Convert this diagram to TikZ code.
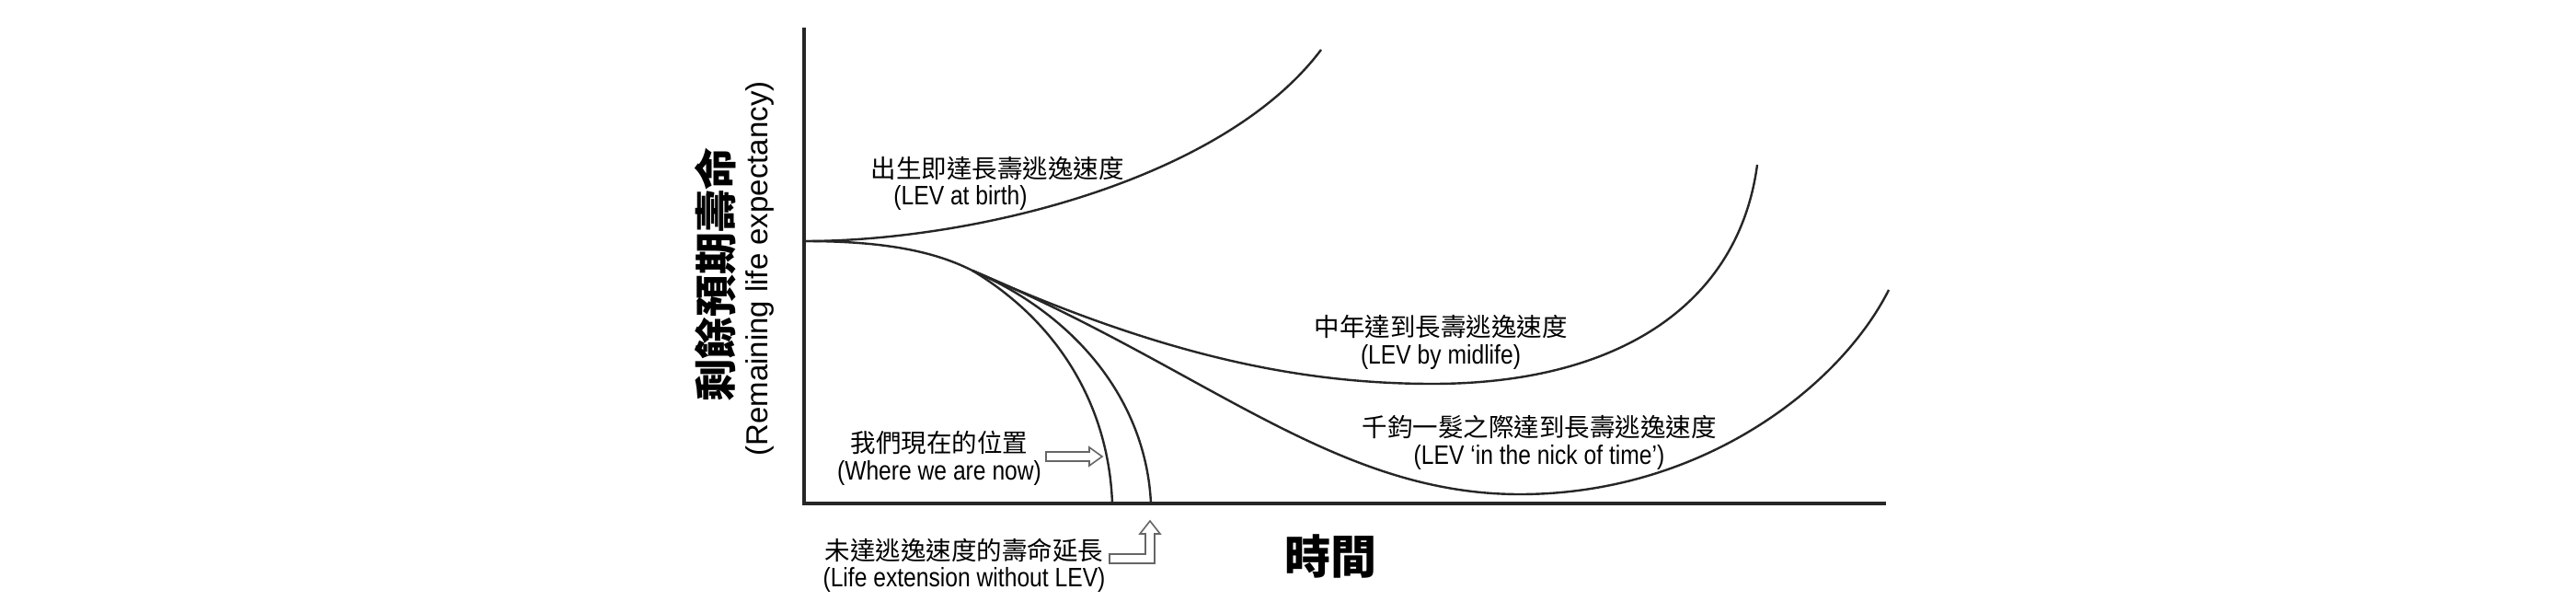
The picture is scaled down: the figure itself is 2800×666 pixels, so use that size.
\documentclass[tikz,border=0pt]{standalone}
\usepackage{fontspec}
\setmainfont{Liberation Sans}
\newfontfamily\cjk{Noto Sans CJK TC}
\newcommand{\cond}[1]{\scalebox{0.85}[1]{#1}}
\begin{document}
\begin{tikzpicture}[x=1pt,y=-1pt,
  curve/.style={line width=2.4pt,draw=black!85},
  axis/.style={line width=3.5pt,draw=black!85},
  zh/.style={inner sep=0,font=\cjk\fontsize{27.5}{28}\selectfont},
  en/.style={inner sep=0,font=\fontsize{29}{29}\selectfont},
  hollow/.style={draw=black!60,line width=1.6pt,fill=white}]
\useasboundingbox (0,0) rectangle (2800,666);
\fill[white] (0,0) rectangle (2800,666);
% axes
\coordinate (O) at (874,547);
\coordinate (Ytop) at (874,30);
\coordinate (Xend) at (2050,547);
\draw[axis] (Ytop) -- (O) -- (Xend);
% curves
\coordinate (S) at (874,262);
\coordinate (B) at (1057,294);
\coordinate (E1) at (1436,54);
\coordinate (W1) at (1209,547);
\coordinate (W2) at (1251,547);
\coordinate (M1) at (1557,417);
\coordinate (M2) at (1910,179);
\coordinate (N1) at (1652,537);
\coordinate (N2) at (2053,315);
\draw[curve] (S) .. controls (1060,262) and (1330,195) .. (E1);
\draw[curve] (S) .. controls (950,262) and (1010,270) .. (B);
\draw[curve] (B) .. controls (1150,350) and (1205,440) .. (W1);
\draw[curve] (B) .. controls (1175,345) and (1246,440) .. (W2);
\draw[curve] (B) .. controls (1250,380) and (1400,417) .. (M1) .. controls (1760,417) and (1890,330) .. (M2);
\draw[curve] (B) .. controls (1310,400) and (1450,537) .. (N1) .. controls (1850,537) and (2000,420) .. (N2);
% labels
\node[zh] (t1) at (1084,183) {出生即達長壽逃逸速度};
\node[en] (e1) at (1044,215) {\cond{(LEV at birth)}};
\node[zh] (t2) at (1566,355) {中年達到長壽逃逸速度};
\node[en] (e2) at (1566,388) {\cond{(LEV by midlife)}};
\node[zh] (t3) at (1673,464) {千鈞一髮之際達到長壽逃逸速度};
\node[en] (e3) at (1673,497) {\cond{(LEV ‘in the nick of time’)}};
\node[zh] (t4) at (1021,481) {我們現在的位置};
\node[en] (e4) at (1021,514) {\cond{(Where we are now)}};
\node[zh] (t5) at (1048,598) {未達逃逸速度的壽命延長};
\node[en] (e5) at (1048,630) {\cond{(Life extension without LEV)}};
\node[inner sep=0,font=\cjk\bfseries\fontsize{50}{50}\selectfont] (xl) at (1446,604) {時間};
\node[inner sep=0,rotate=90,font=\cjk\bfseries\fontsize{46}{46}\selectfont] (yl) at (778,298) {剩餘預期壽命};
\node[inner sep=0,rotate=90,font=\fontsize{33}{33}\selectfont] (yl2) at (826,292) {(Remaining life expectancy)};
% hollow arrows
\draw[hollow] (1137,491) -- (1184,491) -- (1184,486) -- (1198,496) -- (1184,506) -- (1184,501) -- (1137,501) -- cycle;
\draw[hollow] (1206,602) -- (1245,602) -- (1245,580) -- (1239,580) -- (1250,566) -- (1261,580) -- (1255,580) -- (1255,612) -- (1206,612) -- cycle;
\end{tikzpicture}
\end{document}
